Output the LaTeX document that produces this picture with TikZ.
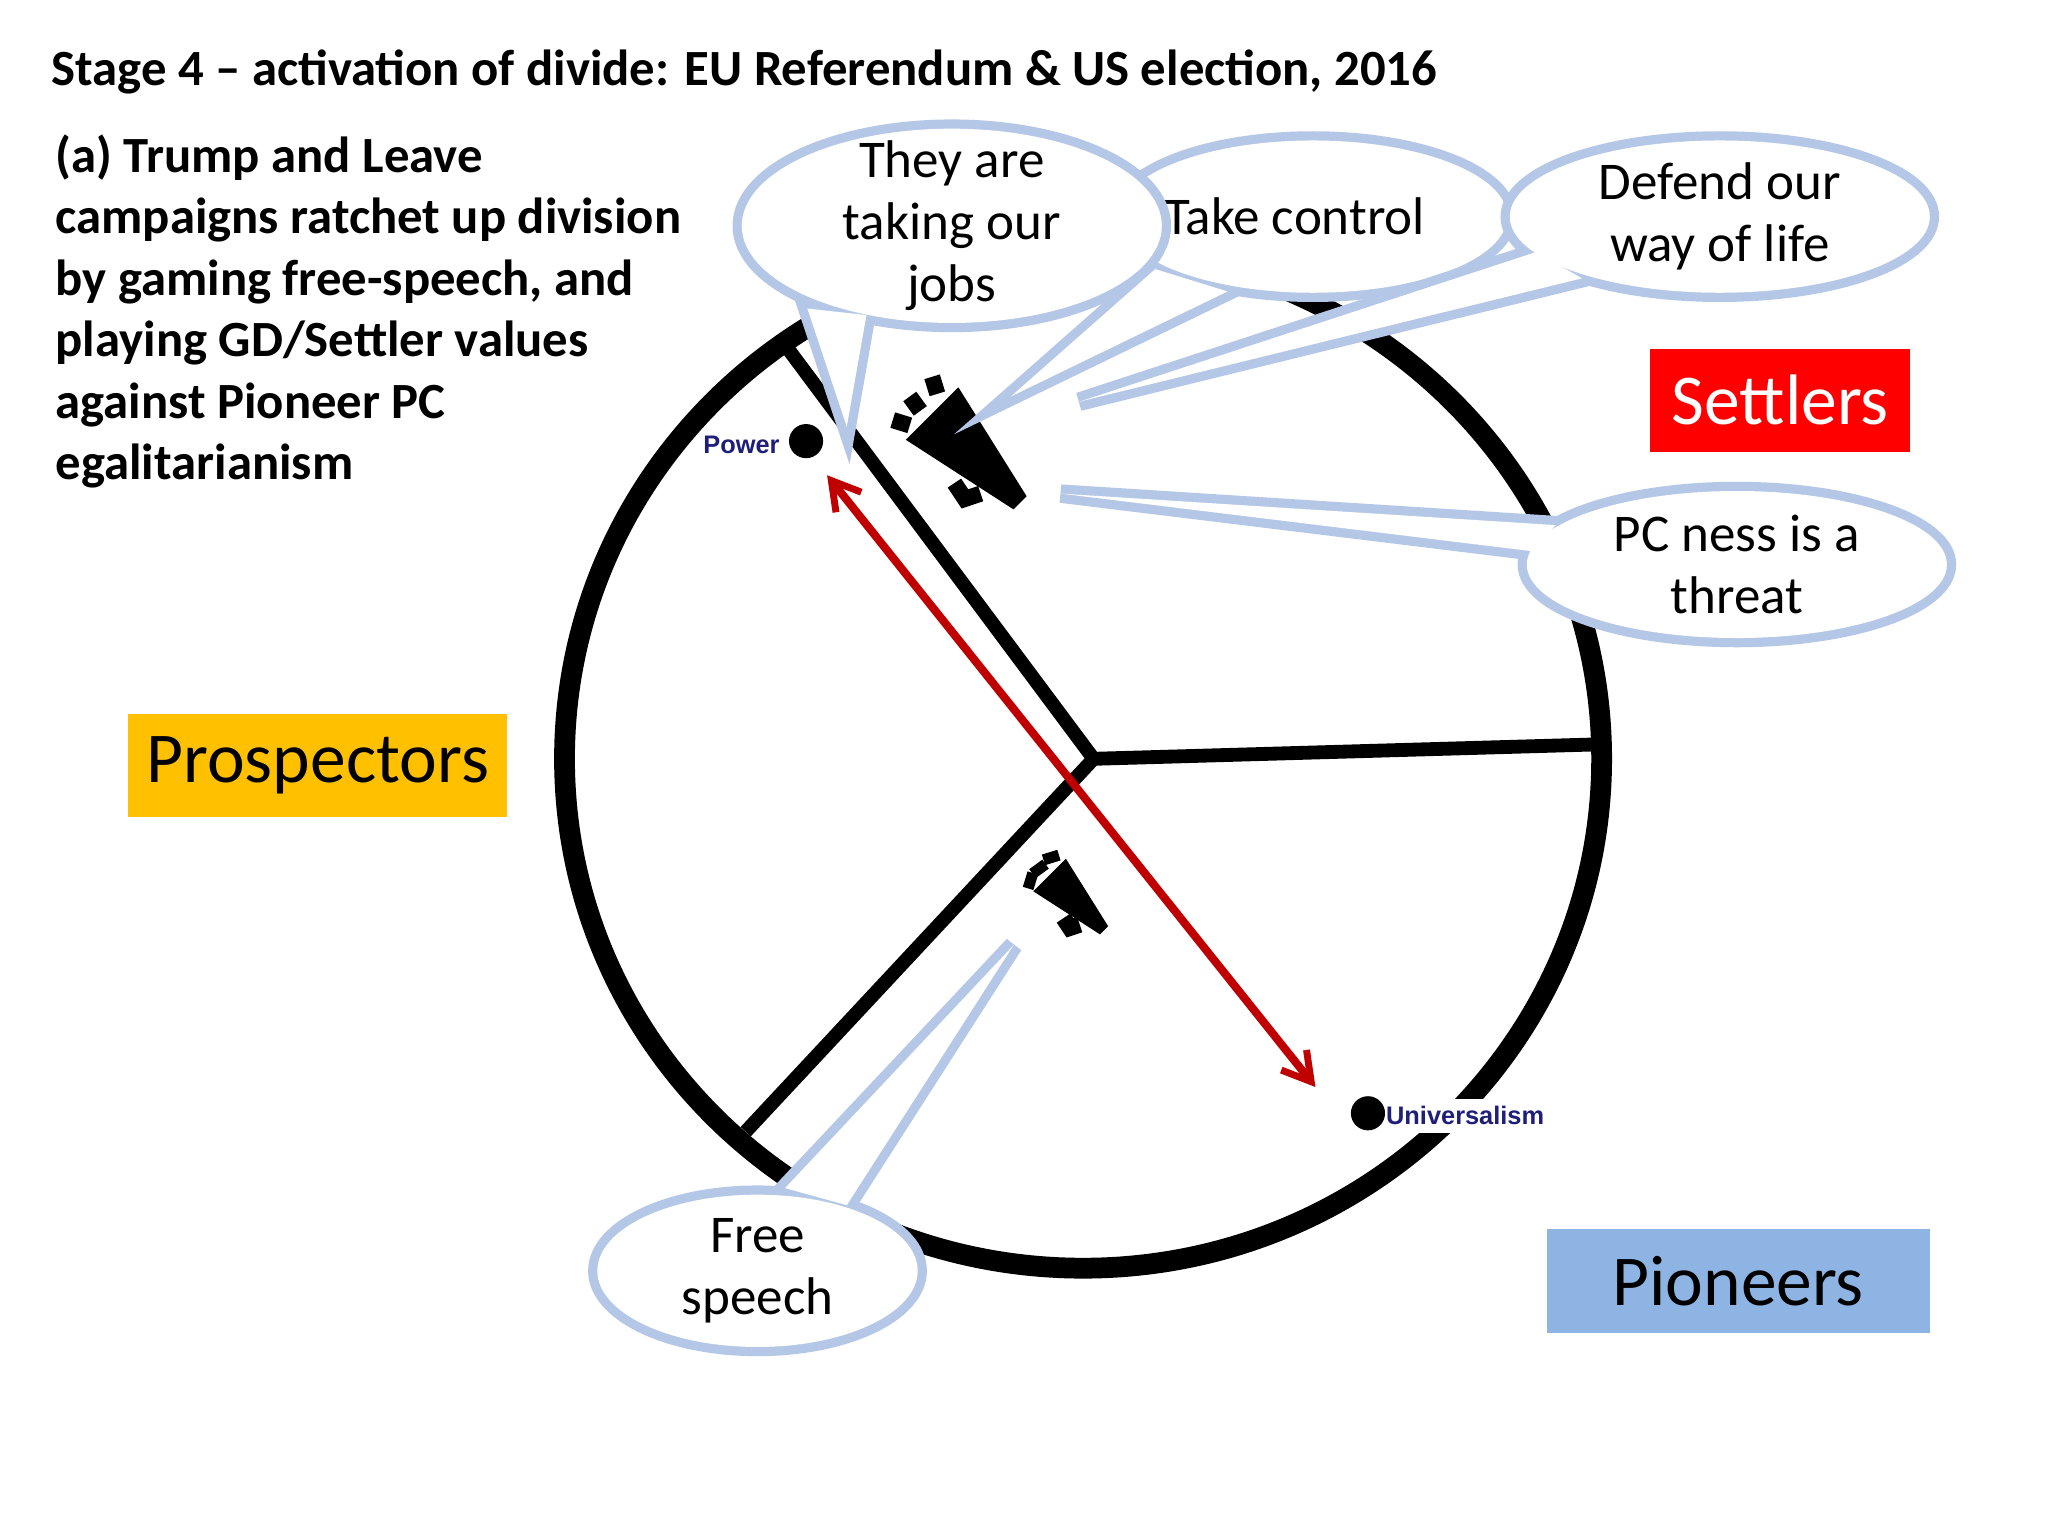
\documentclass[tikz,border=0pt]{standalone}
\usepackage{fontspec}
\usetikzlibrary{arrows.meta}
\setmainfont{Carlito}
\newfontfamily\arialf{Liberation Sans}
\begin{document}
\begin{tikzpicture}[x=0.02cm,y=-0.02cm,
  bub/.style={draw=bubc,line width=8},
  bubtxt/.style={font=\fontsize{23}{27}\selectfont,align=center,text=black},
  lab/.style={font=\fontsize{31}{34}\selectfont,minimum width=289*0.02cm,minimum height=79*0.02cm,inner sep=0},
  dotlab/.style={font=\arialf\bfseries\fontsize{11}{12}\selectfont,text=navyc}]
\definecolor{bubc}{HTML}{B4C7E7}
\definecolor{navyc}{HTML}{1F1F7A}
\definecolor{arr}{HTML}{C00000}
\useasboundingbox[fill=white] (0,0) rectangle (1560,1170);
% title and text
\node[anchor=west,font=\fontsize{22}{24}\selectfont\bfseries] (title) at (33,55) {Stage 4 -- activation of divide: EU Referendum \& US election, 2016};
\node[anchor=north west,align=left,font=\fontsize{22}{26.7}\selectfont\bfseries,inner sep=0] (para) at (42,102) {(a) Trump and Leave\\campaigns ratchet up division\\by gaming free-speech, and\\playing GD/Settler values\\against Pioneer PC\\egalitarianism};
% circle and spokes
\draw[line width=9] (825,578) ellipse [x radius=395, y radius=388];
\coordinate (c) at (833,578);
\coordinate (s1) at (593,256);
\coordinate (s2) at (1217,567);
\coordinate (s3) at (568,862);
\draw[line width=6] (s1) -- (c) -- (s2) (c) -- (s3);
% dots
\fill (614,336) circle (13) coordinate (pw);
\node[dotlab,anchor=east] (pwl) at (600,339) {Power};
\node[dotlab,anchor=west,fill=white,inner xsep=2pt] (unl) at (1052,850) {Universalism};
\fill (1042,848) circle (13) coordinate (un);
\coordinate (a1) at (630,362);
\coordinate (a2) at (1002,828);
\draw[arr,line width=3.5,<->,>={Straight Barb[length=12pt,width=14pt,line width=3pt]}] (a1) -- (a2);
% megaphones
\foreach \mx/\my/\ms in {735/340/1, 815/682/0.62}{
 \begin{scope}[shift={(\mx,\my)},scale=\ms]
  \fill (-45,-5) -- (-5,-45) -- (47,38) -- (37,48) -- cycle;
  \draw[line width=7] (-8,28) -- (0,40) -- (12,36);
  \draw[line width=7] (-55,-20) -- (-42,-16);
  \draw[line width=7] (-42,-38) -- (-34,-27);
  \draw[line width=7] (-25,-53) -- (-21,-40);
 \end{scope}}
% bubbles
\newcommand{\bubble}[7]{%
  \path[bub] (#1,#2) ellipse [x radius=#3, y radius=#4];
  \path[bub] (#5) -- (#6) -- (#7) -- cycle;
  \fill[white] (#1,#2) ellipse [x radius=#3, y radius=#4];
  \fill[white] (#5) -- (#6) -- (#7) -- cycle;}
\bubble{1000}{165}{148}{58}{880,205}{770,302}{935,222}
\node[bubtxt] (tc) at (986,165) {Take control};
\bubble{725}{172}{160}{74}{615,235}{645,325}{660,240}
\node[bubtxt] (jobs) at (725,172) {They are\\taking our\\jobs};
\bubble{1310}{165}{160}{58}{1170,192}{822,306}{1205,212}
\node[bubtxt] (def) at (1310,165) {Defend our\\way of life};
\bubble{1323}{430}{160}{56}{1185,400}{808,376}{1168,420}
\node[bubtxt] (pc) at (1323,430) {PC ness is a\\threat};
\bubble{577}{968}{122}{58}{598,905}{772,720}{645,918}
\node[bubtxt] (fs) at (577,968) {Free\\speech};
% labels
\node[lab,fill=red,text=white,minimum width=198*0.02cm] (set) at (1356,305) {Settlers};
\node[lab,fill={rgb,255:red,255;green,192;blue,0}] (pro) at (242,583) {Prospectors};
\node[lab,fill={rgb,255:red,142;green,180;blue,227},minimum width=292*0.02cm] (pio) at (1324,976) {Pioneers};
\end{tikzpicture}
\end{document}
